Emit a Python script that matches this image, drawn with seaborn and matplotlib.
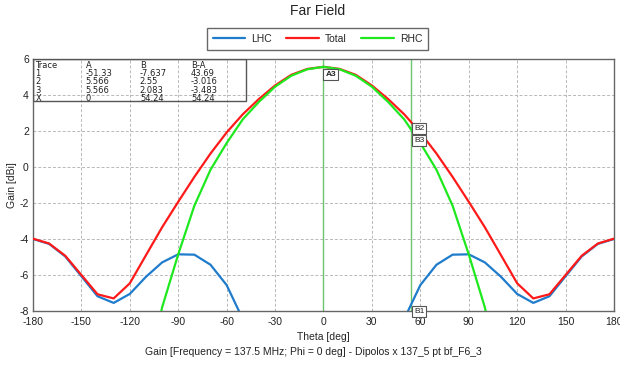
import numpy as np
import pandas as pd
import matplotlib
matplotlib.use("Agg")
import matplotlib.pyplot as plt
from matplotlib.lines import Line2D
import seaborn as sns

# Far-field gain cut, Phi = 0 deg, sampled every 10 deg
theta = list(range(-180, 181, 10))

lhc = [-4.00, -4.27, -4.97, -6.07, -7.18, -7.55, -7.05, -6.10, -5.30, -4.85,
       -4.87, -5.43, -6.56, -8.45, -11.0, -14.5, -19.0, -27.0, -51.33,
       -27.0, -19.0, -14.5, -11.0, -8.45, -6.56, -5.43, -4.87, -4.85, -5.30,
       -6.10, -7.05, -7.55, -7.18, -6.07, -4.97, -4.27, -4.00]

total = [-3.98, -4.25, -4.93, -6.00, -7.07, -7.30, -6.46, -4.90, -3.35, -1.93,
         -0.55, 0.75, 1.92, 2.93, 3.78, 4.53, 5.12, 5.45, 5.566,
         5.45, 5.12, 4.53, 3.78, 2.93, 1.92, 0.75, -0.55, -1.93, -3.35,
         -4.90, -6.46, -7.30, -7.07, -6.00, -4.93, -4.25, -3.98]

rhc = [-30.0, -28.0, -25.0, -22.0, -19.5, -16.5, -14.5, -12.0, -7.80, -4.85,
       -2.15, -0.15, 1.33, 2.65, 3.62, 4.46, 5.07, 5.43, 5.566,
       5.43, 5.07, 4.46, 3.62, 2.65, 1.33, -0.15, -2.15, -4.85, -7.80,
       -12.0, -14.5, -16.5, -19.5, -22.0, -25.0, -28.0, -30.0]

series_names = ["LHC", "Total", "RHC"]
series_colors = ["#1f7ccc", "#ff1a1a", "#1ee81e"]

# Marker readout table
table_header = ["Trace", "A", "B", "B-A"]
table_rows = [
    ["1", "-51.33", "-7.637", "43.69"],
    ["2", "5.566", "2.55", "-3.016"],
    ["3", "5.566", "2.083", "-3.483"],
    ["X", "0", "54.24", "54.24"],
]
marker_a_theta = 0.0
marker_b_theta = 54.24
marker_a_gain = 5.566
marker_b_gains = [-7.637, 2.55, 2.083]

x_ticks = list(range(-180, 181, 30))
y_ticks = list(range(-8, 7, 2))

df = pd.DataFrame({
    "Theta": theta * 3,
    "Gain": lhc + total + rhc,
    "Trace": ["LHC"] * len(theta) + ["Total"] * len(theta) + ["RHC"] * len(theta),
})

sns.set_style("whitegrid")
plt.rcParams["font.family"] = ["Liberation Sans", "DejaVu Sans"]
plt.rcParams["axes.unicode_minus"] = False

fig = plt.figure(figsize=(6.2, 3.74), dpi=100)
ax = fig.add_axes([0.0532, 0.1684, 0.9371, 0.6738])

sns.lineplot(data=df, x="Theta", y="Gain", hue="Trace", hue_order=series_names,
             palette=dict(zip(series_names, series_colors)), linewidth=1.6,
             ax=ax, legend=False, zorder=3)

ax.set_xlim(-180, 180)
ax.set_ylim(-8, 6)
ax.set_xticks(x_ticks)
ax.set_yticks(y_ticks)
ax.tick_params(axis="both", labelsize=7.5, colors="#222222", length=0)
ax.tick_params(axis="x", pad=4)
ax.tick_params(axis="y", pad=3)
ax.grid(True, color="#b8b8b8", linestyle=(0, (3, 2)), linewidth=0.7)
for sp in ax.spines.values():
    sp.set_color("#666666")
    sp.set_linewidth(1.0)

ax.set_xlabel("Theta [deg]", fontsize=7.5, labelpad=4)
ax.set_ylabel("Gain [dBi]", fontsize=7.5, labelpad=2)

# Marker lines
for xm in (marker_a_theta, marker_b_theta):
    ax.axvline(xm, color="#6cc46c", linewidth=1.0, zorder=2)

box = dict(boxstyle="square,pad=0.25", facecolor="white", edgecolor="#555555", linewidth=0.8)
ax.text(marker_a_theta + 1.2, marker_a_gain - 0.25, "A3", fontsize=6, fontweight="bold",
        ha="left", va="top", bbox=box, zorder=6, color="#222222")
ax.text(marker_b_theta + 1.8, marker_b_gains[1] - 0.2, "B2", fontsize=6,
        ha="left", va="top", bbox=box, zorder=6, color="#222222")
ax.text(marker_b_theta + 1.8, marker_b_gains[2] - 0.4, "B3", fontsize=6,
        ha="left", va="top", bbox=box, zorder=6, color="#222222")
ax.text(marker_b_theta + 1.8, -7.82, "B1", fontsize=6,
        ha="left", va="top", bbox=box, zorder=6, color="#222222", clip_on=False)

# Readout table in the upper-left corner
tbl_w, tbl_h = 0.367, 0.167
ax.add_patch(plt.Rectangle((0, 1 - tbl_h), tbl_w, tbl_h, transform=ax.transAxes,
                           facecolor="none", edgecolor="#555555", linewidth=1.0, zorder=5))
col_x = [0.004, 0.091, 0.184, 0.272]
row_y = [0.975, 0.942, 0.909, 0.876, 0.843]
for j, head in enumerate(table_header):
    ax.text(col_x[j], row_y[0], head, transform=ax.transAxes, fontsize=6,
            family=["DejaVu Sans"], ha="left", va="center", color="#222222", zorder=6)
for i, row in enumerate(table_rows):
    for j, cell in enumerate(row):
        ax.text(col_x[j], row_y[i + 1], cell, transform=ax.transAxes, fontsize=6,
                family=["DejaVu Sans"], ha="left", va="center", color="#222222", zorder=6)

# Title, legend, footer
fig.text(0.512, 0.971, "Far Field", fontsize=10, ha="center", va="center", color="#222222")
handles = [Line2D([0], [0], color=c, linewidth=1.6) for c in series_colors]
leg = fig.legend(handles, series_names, loc="center", bbox_to_anchor=(0.512, 0.896),
                 ncol=3, fontsize=7.5, frameon=True, fancybox=False, handlelength=3.1,
                 columnspacing=1.4, handletextpad=0.6, borderpad=0.55, borderaxespad=0)
leg.get_frame().set_edgecolor("#444444")
leg.get_frame().set_linewidth(1.0)
fig.text(0.505, 0.059, "Gain [Frequency = 137.5 MHz; Phi = 0 deg] - Dipolos x 137_5 pt bf_F6_3",
         fontsize=7.5, ha="center", va="center", color="#222222")

fig.savefig("out.png", dpi=100, facecolor="white")
